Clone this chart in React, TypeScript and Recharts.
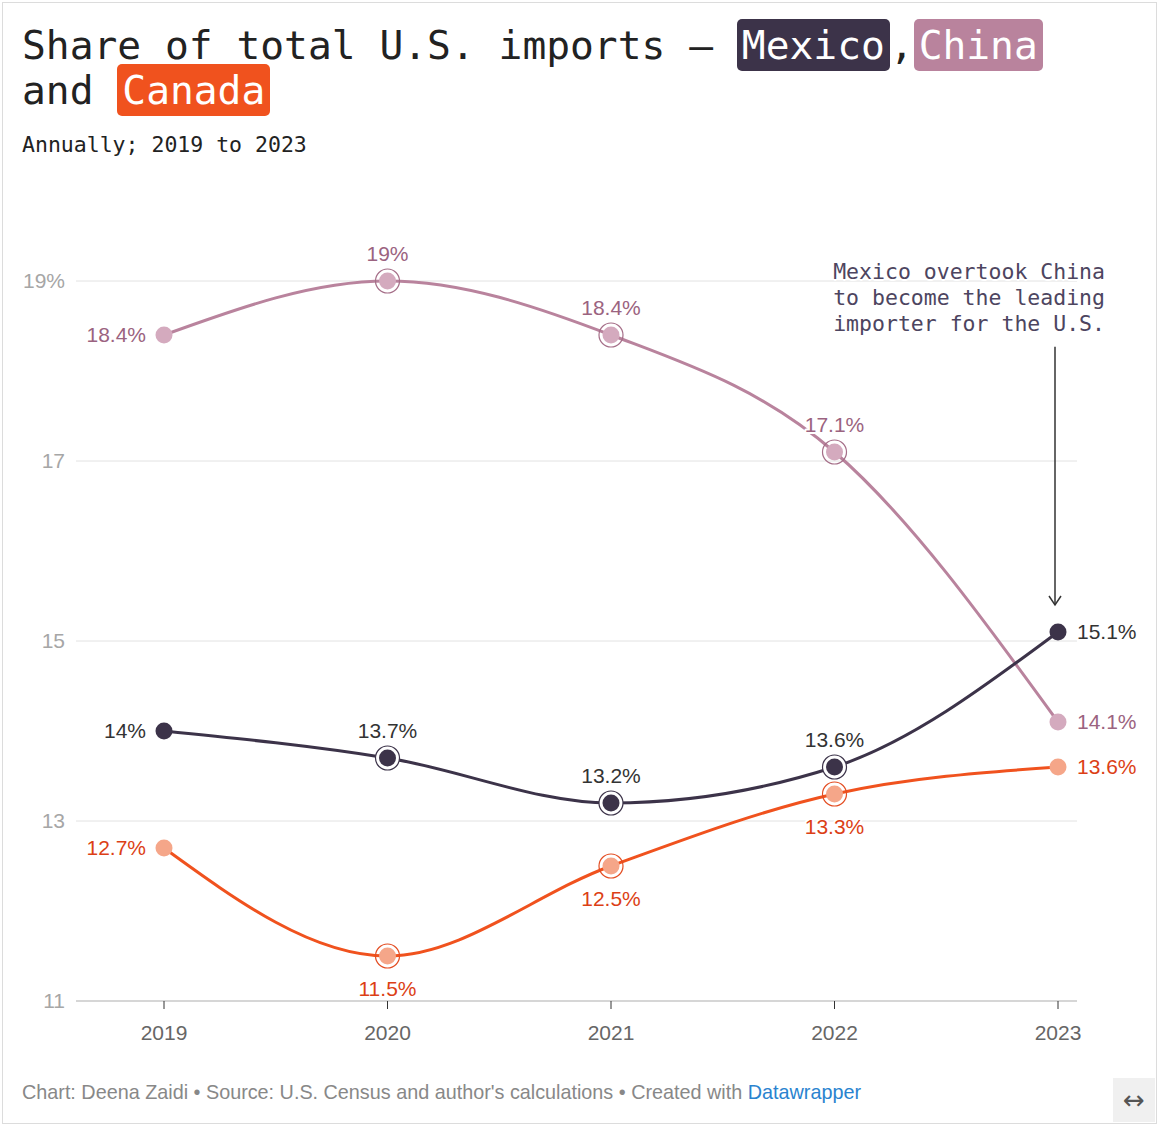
import React from "react";
import {
  LineChart,
  Line,
  XAxis,
  YAxis,
  CartesianGrid,
  LabelList,
  ReferenceLine,
} from "recharts";

const years = ["2019", "2020", "2021", "2022", "2023"];
const mexico = [14.0, 13.7, 13.2, 13.6, 15.1];
const china = [18.4, 19.0, 18.4, 17.1, 14.1];
const canada = [12.7, 11.5, 12.5, 13.3, 13.6];
const yTicks = [11, 13, 15, 17, 19];
// where the annotation arrow starts / ends (in % on the y scale)
const arrowFrom = 18.27;
const arrowTo = 15.4;

const data = years.map((year, i) => ({
  year,
  mexico: mexico[i],
  china: china[i],
  canada: canada[i],
}));

const sans = "'Liberation Sans', Arial, Helvetica, sans-serif";
const mono = "'DejaVu Sans Mono', monospace";

type Series = {
  key: string;
  line: string;
  dot: string;
  ring: string;
  label: string;
  below: boolean;
  ringFill: string;
};

const series: Series[] = [
  { key: "china", line: "#b9839d", dot: "#d4aabe", ring: "#a56e88", label: "#9b6380", below: false, ringFill: "none" },
  { key: "canada", line: "#f0521e", dot: "#f5a689", ring: "#e34d22", label: "#dc3f16", below: true, ringFill: "none" },
  { key: "mexico", line: "#3c3349", dot: "#3c3349", ring: "#3c3349", label: "#333333", below: false, ringFill: "#fff" },
];

const makeDot = (s: Series) => (props: any) => {
  const { cx, cy, index } = props;
  const end = index === 0 || index === years.length - 1;
  return (
    <g key={`${s.key}-dot-${index}`}>
      {!end && (
        <circle cx={cx} cy={cy} r={12} fill={s.ringFill} stroke={s.ring} strokeWidth={1.2} />
      )}
      <circle cx={cx} cy={cy} r={8.5} fill={s.dot} />
    </g>
  );
};

const makeLabel = (s: Series) => (props: any) => {
  const x = props.x ?? props.viewBox?.x;
  const y = props.y ?? props.viewBox?.y;
  const { value, index } = props;
  const last = years.length - 1;
  let tx = x;
  let ty = y;
  let anchor: "start" | "middle" | "end" = "middle";
  if (index === 0) {
    tx = x - 18;
    anchor = "end";
  } else if (index === last) {
    tx = x + 19;
    anchor = "start";
  } else {
    ty = s.below ? y + 33 : y - 27;
  }
  return (
    <text
      x={tx}
      y={ty}
      dy="0.35em"
      textAnchor={anchor}
      fill={s.label}
      fontSize={21}
      fontFamily={sans}
      stroke="#fff"
      strokeWidth={4}
      paintOrder="stroke"
      strokeLinejoin="round"
    >
      {`${value}%`}
    </text>
  );
};

const Arrow = (p: any) => {
  const x = p.x1 - 3;
  return (
    <g>
      <line x1={x} y1={p.y1} x2={x} y2={p.y2} stroke="#333" strokeWidth={1.5} />
      <polyline
        points={`${x - 6},${p.y2 - 9} ${x},${p.y2} ${x + 6},${p.y2 - 9}`}
        fill="none"
        stroke="#333"
        strokeWidth={1.5}
      />
    </g>
  );
};

const tag = (bg: string, text: string) => (
  <span
    style={{
      background: bg,
      color: "#fff",
      borderRadius: 5,
      padding: "3px 5px",
    }}
  >
    {text}
  </span>
);

const App = () => {
  return (
    <div style={{ position: "relative", width: 1158, height: 1128, background: "#fff" }}>
      <style>{"body{margin:0}"}</style>
      <div
        style={{
          position: "absolute",
          left: 2,
          top: 2,
          width: 1155,
          height: 1122,
          boxSizing: "border-box",
          border: "1px solid #dcdcdc",
        }}
      />
      <div
        style={{
          position: "absolute",
          left: 22,
          top: 23,
          fontFamily: mono,
          fontSize: 39.6,
          lineHeight: "45px",
          color: "#222",
          whiteSpace: "nowrap",
        }}
      >
        Share of total U.S. imports – {tag("#3c3349", "Mexico")},{tag("#b9839d", "China")}
        <br />
        and {tag("#f0521e", "Canada")}
      </div>
      <div
        style={{
          position: "absolute",
          left: 22,
          top: 132,
          fontFamily: mono,
          fontSize: 21.5,
          lineHeight: "25px",
          color: "#222",
        }}
      >
        Annually; 2019 to 2023
      </div>

      <div style={{ position: "absolute", left: 0, top: 0 }}>
        <LineChart
          width={1158}
          height={1060}
          data={data}
          margin={{ top: 281, right: 81, bottom: 9, left: 0 }}
        >
          <CartesianGrid vertical={false} stroke="#e2e2e2" />
          <XAxis
            dataKey="year"
            padding={{ left: 88, right: 19 }}
            height={50}
            tickSize={8}
            tickMargin={16}
            tickLine={{ stroke: "#333" }}
            axisLine={{ stroke: "#d6d6d6", strokeWidth: 2 }}
            tick={{ fill: "#666", fontSize: 21, fontFamily: sans }}
          />
          <YAxis
            width={76}
            domain={[11, 19]}
            ticks={yTicks}
            axisLine={false}
            tickLine={false}
            tickSize={0}
            tickMargin={11}
            tickFormatter={(v: number) => (v === 19 ? "19%" : String(v))}
            tick={{ fill: "#a6a6a6", fontSize: 21, fontFamily: sans }}
          />
          <ReferenceLine
            segment={[
              { x: "2023", y: arrowFrom },
              { x: "2023", y: arrowTo },
            ]}
            ifOverflow="visible"
            stroke="#333"
            shape={Arrow}
          />
          {series.map((s) => (
            <Line
              key={s.key}
              type="monotone"
              dataKey={s.key}
              stroke={s.line}
              strokeWidth={3}
              dot={makeDot(s)}
              activeDot={false}
              isAnimationActive={false}
            >
              <LabelList dataKey={s.key} content={makeLabel(s)} />
            </Line>
          ))}
        </LineChart>
      </div>

      <div
        style={{
          position: "absolute",
          left: 800,
          top: 259,
          width: 305,
          textAlign: "right",
          fontFamily: mono,
          fontSize: 21.5,
          lineHeight: "26px",
          color: "#4d4560",
          textShadow:
            "2px 0 0 #fff, -2px 0 0 #fff, 0 2px 0 #fff, 0 -2px 0 #fff, 1px 1px 0 #fff, -1px -1px 0 #fff, 1px -1px 0 #fff, -1px 1px 0 #fff",
        }}
      >
        Mexico overtook China
        <br />
        to become the leading
        <br />
        importer for the U.S.
      </div>

      <div
        style={{
          position: "absolute",
          left: 22,
          top: 1080,
          fontFamily: sans,
          fontSize: 19.8,
          lineHeight: "24px",
          color: "#888",
          whiteSpace: "nowrap",
        }}
      >
        Chart: Deena Zaidi • Source: U.S. Census and author's calculations • Created with{" "}
        <span style={{ color: "#2a83cf" }}>Datawrapper</span>
      </div>
      <div
        style={{
          position: "absolute",
          left: 1113,
          top: 1078,
          width: 42,
          height: 44,
          background: "#f0f0f0",
          color: "#555",
          fontFamily: "'DejaVu Sans', sans-serif",
          fontSize: 26,
          lineHeight: "44px",
          textAlign: "center",
        }}
      >
        ↔
      </div>
    </div>
  );
};

export default App;
